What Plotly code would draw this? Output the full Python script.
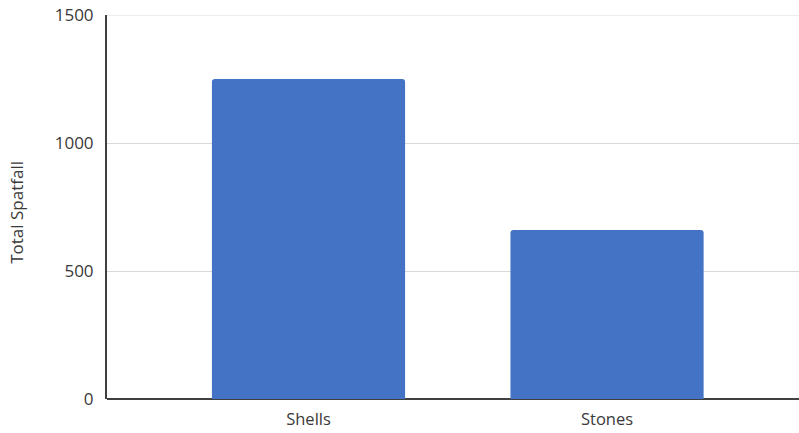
import plotly.graph_objects as go

categories = ["Shells", "Stones"]
values = [1250, 660]
y_ticks = [0, 500, 1000, 1500]

fig = go.Figure()
fig.add_trace(go.Bar(
    x=[0, 1], y=values, width=0.647,
    marker=dict(color="#4472C4", line=dict(width=0)),
))

fig.update_layout(
    width=799, height=433,
    margin=dict(l=107, r=0, t=15, b=34),
    paper_bgcolor="white", plot_bgcolor="white",
    showlegend=False,
    barcornerradius=3,
    font=dict(family="Open Sans", color="#3a3a3a"),
    xaxis=dict(
        range=[-0.675, 1.643],
        tickmode="array", tickvals=[0, 1], ticktext=categories,
        showgrid=False, zeroline=False,
        showline=False,
        ticks="outside", ticklen=5, tickcolor="rgba(0,0,0,0)",
        tickfont=dict(size=16.5, color="#3a3a3a"),
    ),
    yaxis=dict(
        range=[0, 1500],
        tickmode="array", tickvals=y_ticks,
        showgrid=True, gridcolor="#d9d9d9", gridwidth=1,
        zeroline=True, zerolinecolor="#404040", zerolinewidth=2,
        showline=True, linecolor="#404040", linewidth=2,
        ticks="outside", ticklen=8, tickcolor="rgba(0,0,0,0)",
        tickfont=dict(size=17, color="#3a3a3a"),
    ),
    shapes=[dict(
        type="line", xref="paper", yref="y", x0=0, x1=1, y0=y_ticks[-1], y1=y_ticks[-1],
        line=dict(color="#d9d9d9", width=1), layer="below",
    )],
    annotations=[dict(
        text="Total Spatfall", textangle=-90,
        xref="paper", yref="paper", x=-0.13, y=0.485,
        xanchor="center", yanchor="middle", showarrow=False,
        font=dict(size=17, color="#3a3a3a"),
    )],
)
fig.update_xaxes(layer="above traces")
fig.update_yaxes(layer="above traces")

fig.write_html("out.html")
